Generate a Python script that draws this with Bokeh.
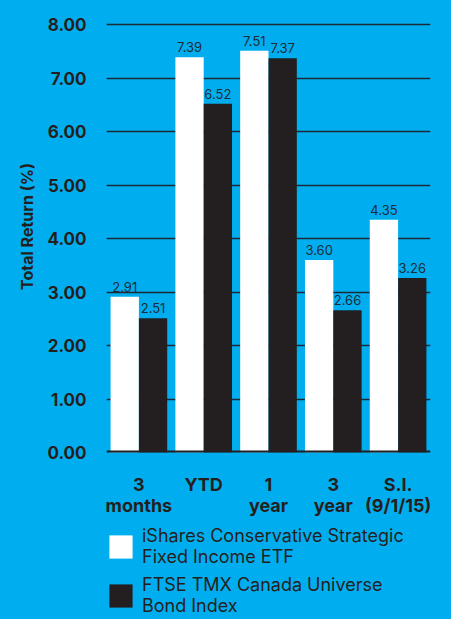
from bokeh.plotting import figure
from bokeh.layouts import column
from bokeh.models import (ColumnDataSource, FactorRange, Range1d, FixedTicker,
                          Span, Legend, LegendItem, GlobalInlineStyleSheet)
from bokeh.transform import dodge
from bokeh.core.properties import value
from bokeh.embed import file_html
from bokeh.resources import INLINE

# Period categories (two-row axis labels)
categories = ["3\nmonths", "YTD\n\u00a0", "1\nyear", "3\nyear", "S.I.\n(9/1/15)"]

# Total returns (%) per series
etf_returns = [2.91, 7.39, 7.51, 3.60, 4.35]
index_returns = [2.51, 6.52, 7.37, 2.66, 3.26]

series_names = ["iShares Conservative Strategic\nFixed Income ETF",
                "FTSE TMX Canada Universe\nBond Index"]

# Y axis ticks and labels
y_ticks = [0, 1, 2, 3, 4, 5, 6, 7, 8]
y_tick_labels = ["0.00", "1.00", "2.00", "3.00", "4.00", "5.00", "6.00", "7.00", "8.00"]

BG = "#00aeef"
DARK = "#231f20"
TEXT = "#231f20"
LABEL = "#1f2b36"
FONT = "Inter"
BAR_COLORS = ["#ffffff", DARK]

source = ColumnDataSource(data=dict(
    cat=categories,
    etf=etf_returns,
    idx=index_returns,
    etf_lbl=[f"{v:.2f}" for v in etf_returns],
    idx_lbl=[f"{v:.2f}" for v in index_returns],
))

p = figure(
    width=451, height=519,
    x_range=FactorRange(factors=categories, range_padding=0, factor_padding=0),
    y_range=Range1d(0, 8.45),
    output_backend="svg", toolbar_location=None,
    min_border_left=106, min_border_right=21,
    min_border_top=0, min_border_bottom=67,
    background_fill_color=BG, border_fill_color=BG,
    outline_line_color=None,
)

bar_w = 0.437
off = bar_w / 2

p.vbar(x=dodge("cat", -off, range=p.x_range), top="etf", width=bar_w,
       source=source, fill_color=BAR_COLORS[0], line_color=None)
p.vbar(x=dodge("cat", off, range=p.x_range), top="idx", width=bar_w,
       source=source, fill_color=BAR_COLORS[1], line_color=None)

# Value labels floating above each bar
common = dict(source=source, text_align="center", text_baseline="middle",
              y_offset=-10, text_font=value(FONT), text_font_size="13px",
              text_color=LABEL)
p.text(x=dodge("cat", -off, range=p.x_range), y="etf", text="etf_lbl", **common)
p.text(x=dodge("cat", off, range=p.x_range), y="idx", text="idx_lbl", **common)

# Heavy baseline at zero
p.add_layout(Span(location=0, dimension="width", line_color=DARK, line_width=4))

# Grid
p.xgrid.grid_line_color = None
p.ygrid.ticker = FixedTicker(ticks=y_ticks[1:])
p.ygrid.grid_line_color = "#1c2a36"
p.ygrid.grid_line_width = 1.5

# Y axis
p.yaxis.ticker = FixedTicker(ticks=y_ticks)
p.yaxis.major_label_overrides = {t: l for t, l in zip(y_ticks, y_tick_labels)}
p.yaxis.axis_line_color = None
p.yaxis.major_tick_line_color = None
p.yaxis.minor_tick_line_color = None
p.yaxis.major_label_standoff = 14
p.yaxis.major_label_text_font = FONT
p.yaxis.major_label_text_font_style = "bold"
p.yaxis.major_label_text_font_size = "17px"
p.yaxis.major_label_text_color = TEXT
p.yaxis.axis_label = "Total Return (%)"
p.yaxis.axis_label_text_font = FONT
p.yaxis.axis_label_text_font_style = "bold"
p.yaxis.axis_label_text_font_size = "16px"
p.yaxis.axis_label_text_color = TEXT
p.yaxis.axis_label_standoff = 7

# X axis
p.xaxis.axis_line_color = None
p.xaxis.major_tick_line_color = None
p.xaxis.minor_tick_line_color = None
p.xaxis.major_tick_out = 0
p.xaxis.major_tick_in = 0
p.xaxis.major_label_standoff = 21
p.xaxis.major_label_text_font = FONT
p.xaxis.major_label_text_font_style = "bold"
p.xaxis.major_label_text_font_size = "18px"
p.xaxis.major_label_text_line_height = 1.0
p.xaxis.major_label_text_color = TEXT

# Legend panel underneath the chart
lg = figure(
    width=451, height=100,
    x_range=Range1d(0, 1), y_range=Range1d(0, 1),
    output_backend="svg", toolbar_location=None,
    x_axis_location=None, y_axis_location=None,
    min_border_left=92, min_border_top=6, min_border_right=0, min_border_bottom=0,
    background_fill_color=BG, border_fill_color=BG,
    outline_line_color=None,
)
lg.grid.visible = False
swatches = [lg.vbar(x=[0], top=[0], width=0, fill_color=c, line_color=None,
                    visible=False) for c in BAR_COLORS]
legend = Legend(
    items=[LegendItem(label=name, renderers=[r]) for name, r in zip(series_names, swatches)],
    location="top_left",
    orientation="vertical",
    glyph_width=29, glyph_height=29,
    label_standoff=7, spacing=7, padding=0, margin=0,
    border_line_color=None, background_fill_alpha=0,
    label_text_font=FONT, label_text_font_size="18px",
    label_text_color=TEXT, label_text_line_height=1.2,
)
lg.add_layout(legend, "center")

layout = column(p, lg, spacing=0, styles={"background-color": BG})
layout.stylesheets = [GlobalInlineStyleSheet(
    css=f"html, body {{ margin: 0; padding: 0; background-color: {BG}; }}")]
open("out.html", "w").write(file_html(layout, INLINE))
